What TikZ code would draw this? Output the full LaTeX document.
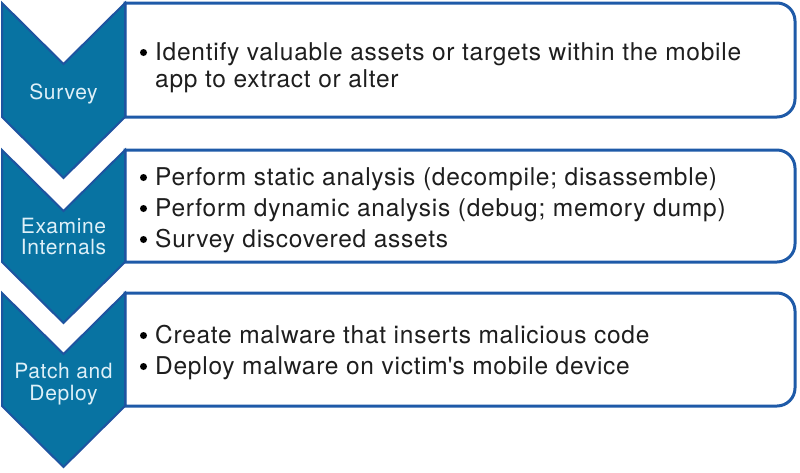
\documentclass[tikz,border=0pt]{standalone}
\usepackage{fontspec}
\setmainfont{TeX Gyre Heros}
\newfontfamily\bodyfont[LetterSpace=3]{TeX Gyre Heros}
\newfontfamily\labelfont[LetterSpace=3]{TeX Gyre Heros}
\definecolor{chevfill}{RGB}{8,115,162}
\definecolor{chevline}{RGB}{30,84,160}
\definecolor{boxline}{RGB}{30,90,168}
\definecolor{labeltext}{RGB}{222,240,248}
\definecolor{bodytext}{RGB}{30,30,30}
\tikzset{
  chev/.style={fill=chevfill,draw=chevline,line width=2pt,line join=miter},
  boxrect/.style={fill=white,draw=boxline,line width=3pt},
  chevlabel/.style={anchor=base,inner sep=0pt,text=labeltext,font=\labelfont\fontsize{21}{22}\selectfont},
  bodyline/.style={anchor=base west,inner sep=0pt,text=bodytext,font=\bodyfont\fontsize{24.5}{27}\selectfont},
  bulletdot/.style={circle,fill=black,inner sep=0pt,minimum size=7pt}
}
\begin{document}
\begin{tikzpicture}[x=1pt,y=-1pt]
\useasboundingbox (0,0) rectangle (800,472);
% boxes
\foreach \t/\b in {3/117,150/262,293/406}{
  \draw[boxrect] (125,\t) -- (777,\t) .. controls (786.9,\t) and (795,\t+8.1) .. (795,\t+18)
    -- (795,\b-18) .. controls (795,\b-8.1) and (786.9,\b) .. (777,\b) -- (125,\b) -- cycle;
}
% chevrons
\foreach \t/\b in {3/117,150/262,293/406}{
  \draw[chev] (2,\t) -- (63.5,\t+61) -- (125,\t) -- (125,\b) -- (63.5,\b+61) -- (2,\b) -- cycle;
}
% chevron labels
\node[chevlabel] (l1) at (63.5,99) {Survey};
\node[chevlabel] (l2a) at (63.5,233) {Examine};
\node[chevlabel] (l2b) at (63.5,254) {Internals};
\node[chevlabel] (l3a) at (63.5,378) {Patch and};
\node[chevlabel] (l3b) at (63.5,400) {Deploy};
% box 1
\node[bulletdot] (b1) at (143.5,52.5) {};
\node[bodyline] (t1a) at (155,60) {Identify valuable assets or targets within the mobile};
\node[bodyline] (t1b) at (155,87) {app to extract or alter};
% box 2
\node[bulletdot] (b2a) at (143.5,177.5) {};
\node[bodyline] (t2a) at (155,185) {Perform static analysis (decompile; disassemble)};
\node[bulletdot] (b2b) at (143.5,208.5) {};
\node[bodyline] (t2b) at (155,216) {Perform dynamic analysis (debug; memory dump)};
\node[bulletdot] (b2c) at (143.5,239.5) {};
\node[bodyline] (t2c) at (155,247) {Survey discovered assets};
% box 3
\node[bulletdot] (b3a) at (143.5,335.5) {};
\node[bodyline] (t3a) at (155,343) {Create malware that inserts malicious code};
\node[bulletdot] (b3b) at (143.5,366.5) {};
\node[bodyline] (t3b) at (155,374) {Deploy malware on victim\textquotesingle s mobile device};
\end{tikzpicture}
\end{document}
